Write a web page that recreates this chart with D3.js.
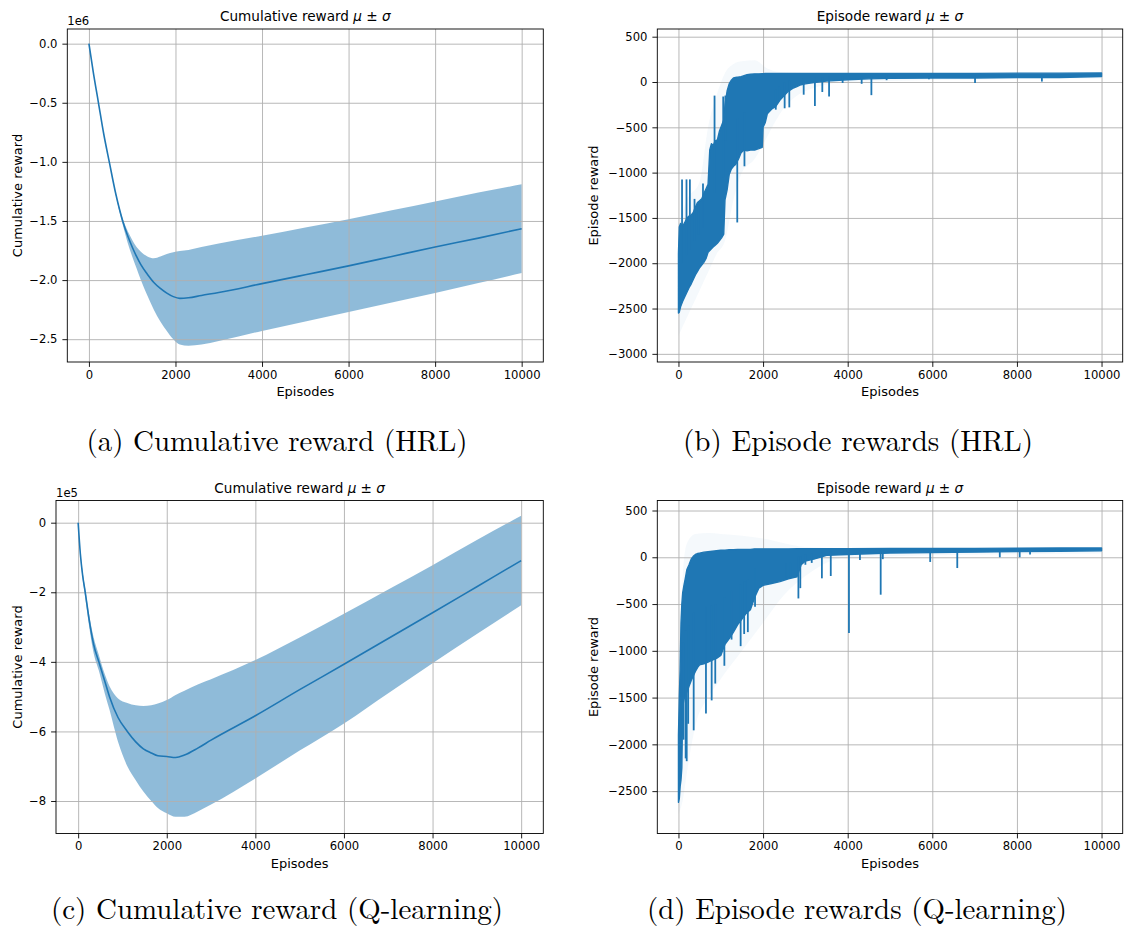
<!DOCTYPE html>
<html>
<head>
<meta charset="utf-8">
<script src="https://cdn.jsdelivr.net/npm/d3@7"></script>
<style>
  body { margin: 0; background: #fff; }
  svg { display: block; }
</style>
</head>
<body>
<svg id="fig" width="1126" height="931"></svg>
<script>
// shared x ticks (episodes)
const xTicks = [0, 2000, 4000, 6000, 8000, 10000]

// (a) HRL cumulative reward, in units of 1e6
const hrlCumEp = [0, 100, 220, 340, 470, 620, 780, 900, 1000, 1100, 1200, 1350, 1500, 1650, 1800, 1950, 2100, 2300, 2600, 3000, 4000, 5000, 6000, 7000, 8000, 9000, 10000]
const hrlCumMean = [0, -0.24, -0.5, -0.76, -1.0, -1.27, -1.5, -1.63, -1.72, -1.80, -1.87, -1.95, -2.02, -2.07, -2.11, -2.14, -2.155, -2.15, -2.13, -2.105, -2.03, -1.955, -1.88, -1.80, -1.72, -1.645, -1.565]
const hrlCumHigh = [0, -0.24, -0.5, -0.76, -1.0, -1.27, -1.48, -1.59, -1.66, -1.72, -1.76, -1.80, -1.815, -1.80, -1.78, -1.765, -1.755, -1.745, -1.72, -1.69, -1.625, -1.555, -1.485, -1.41, -1.335, -1.26, -1.19]
const hrlCumLow = [0, -0.24, -0.5, -0.76, -1.0, -1.28, -1.53, -1.69, -1.80, -1.90, -2.0, -2.13, -2.25, -2.35, -2.43, -2.50, -2.545, -2.555, -2.545, -2.515, -2.43, -2.35, -2.27, -2.19, -2.11, -2.025, -1.94]
const hrlCumTicks = [0, -0.5, -1.0, -1.5, -2.0, -2.5]

// (b) HRL episode reward: envelope of the dense line, spikes, faint sigma band
const hrlEpiEp = [0, 20, 50, 100, 150, 200, 250, 300, 350, 400,
  450, 500, 550, 600, 650, 700, 740, 780, 820, 870,
  920, 970, 1020, 1070, 1100, 1150, 1200, 1250, 1300, 1350,
  1420, 1480, 1550, 1620, 1700, 1800, 1900, 1980, 2000, 2050,
  2100, 2200, 2300, 2400, 2500, 2600, 2700, 2800, 2900, 3000,
  3200, 3500, 4000, 4500, 5000, 6000, 7000, 8000, 9000, 10000]
const hrlEpiHigh = [-1890, -1600, -1560, -1590, -1550, -1500, -1480, -1470, -1440, -1380,
  -1330, -1310, -1290, -1230, -1180, -1130, -750, -680, -700, -650,
  -640, -540, -480, -420, -250, -100, -20, 20, 45, 50,
  55, 60, 70, 80, 85, 90, 90, 92, 92, 95,
  95, 95, 95, 95, 95, 95, 95, 95, 95, 95,
  95, 95, 95, 95, 95, 95, 95, 98, 98, 100]
const hrlEpiLow = [-2550, -2540, -2480, -2420, -2370, -2320, -2270, -2230, -2180, -2130,
  -2090, -2050, -2020, -1990, -1950, -1880, -1860, -1840, -1820, -1800,
  -1780, -1750, -1720, -1680, -1300, -1190, -1020, -960, -930, -910,
  -850, -780, -750, -760, -750, -750, -735, -720, -500, -450,
  -350, -300, -270, -200, -150, -100, -70, -50, -30, -20,
  -5, 10, 25, 35, 40, 45, 45, 50, 50, 60]
const hrlSpikeEp = [85, 190, 270, 380, 470, 580, 853, 1058, 1109, 1390, 1560, 2300, 2380, 2510, 2620, 2960, 3225, 3400, 3560, 3880, 4330, 4560, 4920, 5920, 7010, 8590]
const hrlSpikeVal = [-1075, -1075, -1075, -1290, -1350, -1120, -150, -160, -150, -1550, -930, -305, -200, -290, -280, -140, -265, -110, -160, -10, -20, -145, 20, 30, -10, 5]
const hrlSigEp = [0, 200, 500, 700, 900, 1100, 1300, 1500, 1800, 2100, 2400, 3000, 4000, 10000]
const hrlSigHigh = [-1600, -1300, -1100, -500, -150, 100, 200, 230, 240, 150, 110, 100, 100, 100]
const hrlSigLow = [-2800, -2600, -2300, -2100, -1900, -1750, -1300, -1000, -850, -600, -350, -100, 0, 40]
const hrlEpiTicks = [500, 0, -500, -1000, -1500, -2000, -2500, -3000]

// (c) Q-learning cumulative reward, in units of 1e5
const qCumEp = [0, 50, 100, 160, 250, 350, 467, 600, 708, 900, 1110, 1300, 1472, 1650, 1800, 2000, 2200, 2400, 2700, 3000, 4000, 5000, 6000, 7000, 8000, 9000, 10000]
const qCumMean = [0, -0.9, -1.5, -2.0, -2.8, -3.5, -4.0, -4.55, -5.0, -5.6, -6.0, -6.3, -6.5, -6.62, -6.7, -6.72, -6.75, -6.68, -6.48, -6.25, -5.55, -4.8, -4.07, -3.33, -2.59, -1.84, -1.09]
const qCumHigh = [0, -0.85, -1.4, -1.9, -2.65, -3.3, -3.8, -4.35, -4.7, -5.05, -5.18, -5.25, -5.27, -5.25, -5.2, -5.1, -4.95, -4.83, -4.65, -4.5, -3.95, -3.3, -2.62, -1.92, -1.22, -0.5, 0.2]
const qCumLow = [0, -0.95, -1.6, -2.15, -3.0, -3.75, -4.25, -4.9, -5.38, -6.3, -7.0, -7.4, -7.73, -8.0, -8.2, -8.35, -8.45, -8.45, -8.3, -8.1, -7.35, -6.55, -5.77, -4.9, -4.04, -3.2, -2.37]
const qCumTicks = [0, -2, -4, -6, -8]

// (d) Q-learning episode reward
const qEpiEp = [0, 20, 40, 60, 80, 100, 130, 160, 200, 250,
  300, 350, 400, 450, 500, 600, 700, 800, 900, 1000,
  1100, 1200, 1300, 1400, 1500, 1600, 1700, 1800, 1900, 2000,
  2200, 2400, 2600, 2800, 2900, 3000, 3200, 3500, 4000, 5000,
  6000, 7000, 8000, 9000, 10000]
const qEpiHigh = [-1900, -1500, -1200, -700, -500, -380, -300, -230, -130, -80,
  -20, 10, 30, 40, 45, 55, 60, 65, 70, 75,
  75, 80, 80, 85, 85, 85, 85, 90, 90, 90,
  90, 90, 90, 92, 92, 92, 92, 92, 92, 95,
  95, 95, 98, 100, 100]
const qEpiLow = [-2620, -2580, -2450, -2380, -2250, -1600, -1520, -1480, -1440, -1380,
  -1320, -1270, -1220, -1180, -1150, -1140, -1120, -1100, -1080, -1050,
  -930, -870, -800, -720, -660, -600, -560, -430, -330, -300,
  -280, -260, -230, -210, -80, -40, -20, 20, 30, 45,
  50, 55, 60, 65, 70]
const qSpikeEp = [100, 120, 170, 195, 230, 360, 650, 785, 870, 1085, 1255, 1470, 1553, 1640, 1810, 2540, 2640, 2835, 2880, 3000, 3150, 3390, 3600, 4030, 4290, 4780, 4830, 5950, 6590, 7595, 8065, 8310]
const qSpikeVal = [-1750, -1950, -2150, -2180, -1780, -1850, -1670, -1530, -1350, -1160, -880, -950, -820, -800, -530, -240, -220, -440, -330, -80, -60, -225, -200, -810, -30, -400, -20, -50, -115, 0, 0, 30]
const qSigEp = [0, 100, 200, 400, 700, 1000, 1500, 2000, 2500, 3000, 4000, 10000]
const qSigHigh = [-1500, -200, 150, 250, 260, 250, 230, 200, 150, 110, 100, 100]
const qSigLow = [-2750, -2600, -2300, -1800, -1500, -1300, -1000, -700, -400, -200, 0, 40]
const qEpiTicks = [500, 0, -500, -1000, -1500, -2000, -2500]

const captions = ['(a) Cumulative reward (HRL)', '(b) Episode rewards (HRL)',
  '(c) Cumulative reward (Q-learning)', '(d) Episode rewards (Q-learning)']

const blue = '#1f77b4'
const sans = '"DejaVu Sans", sans-serif'
const svg = d3.select('#fig')

function makePanel (p) {
  const x = d3.scaleLinear().domain([-500, 10500]).range([p.left, p.right])
  const y = d3.scaleLinear().domain(p.yDomain).range([p.bottom, p.top])
  const root = svg.append('g')
  const under = root.append('g')
  const grid = root.append('g')
  const over = root.append('g')
  const axes = root.append('g')

  // grid lines (drawn above the sigma band, under the lines, like matplotlib)
  const gx = grid.append('g').attr('transform', `translate(0,${p.bottom})`)
    .call(d3.axisBottom(x).tickValues(xTicks).tickSize(p.top - p.bottom).tickFormat(''))
  const gy = grid.append('g').attr('transform', `translate(${p.left},0)`)
    .call(d3.axisLeft(y).tickValues(p.yTicks).tickSize(p.left - p.right).tickFormat(''))
  for (const g of [gx, gy]) {
    g.select('.domain').remove()
    g.selectAll('line').attr('stroke', '#b0b0b0').attr('stroke-width', 0.9)
  }

  const xa = axes.append('g').attr('transform', `translate(0,${p.bottom})`)
    .call(d3.axisBottom(x).tickValues(xTicks).tickSize(4.9).tickPadding(3.4).tickFormat(d3.format('d')))
  const ya = axes.append('g').attr('transform', `translate(${p.left},0)`)
    .call(d3.axisLeft(y).tickValues(p.yTicks).tickSize(4.9).tickPadding(4.9).tickFormat(p.yFmt))
  for (const g of [xa, ya]) {
    g.select('.domain').remove()
    g.attr('font-family', sans).attr('font-size', 11.6).attr('color', '#000')
    g.selectAll('line').attr('stroke-width', 0.9)
  }

  axes.append('rect')
    .attr('x', p.left).attr('y', p.top)
    .attr('width', p.right - p.left).attr('height', p.bottom - p.top)
    .attr('fill', 'none').attr('stroke', '#000').attr('stroke-width', 0.9)

  if (p.offset) {
    axes.append('text').attr('x', p.left).attr('y', p.offsetY)
      .attr('font-family', sans).attr('font-size', 11.6).text(p.offset)
  }

  const title = axes.append('text')
    .attr('x', (p.left + p.right) / 2).attr('y', p.top - 8)
    .attr('text-anchor', 'middle').attr('font-family', sans).attr('font-size', 13.6)
  title.append('tspan').text(p.title + ' ')
  title.append('tspan').attr('font-style', 'italic').text('μ')
  title.append('tspan').text(' ± ')
  title.append('tspan').attr('font-style', 'italic').text('σ')

  axes.append('text')
    .attr('x', (p.left + p.right) / 2).attr('y', p.bottom + 34)
    .attr('text-anchor', 'middle').attr('font-family', sans).attr('font-size', 13)
    .text('Episodes')

  axes.append('text')
    .attr('transform', `translate(${p.ylabelX},${(p.top + p.bottom) / 2}) rotate(-90)`)
    .attr('text-anchor', 'middle').attr('font-family', sans).attr('font-size', 13)
    .text(p.ylabel)

  return { x, y, under, over }
}

function drawCumulative (pn, ep, mean, low, high) {
  const idx = d3.range(ep.length)
  pn.under.append('path')
    .attr('d', d3.area().x(i => pn.x(ep[i])).y0(i => pn.y(low[i])).y1(i => pn.y(high[i])).curve(d3.curveMonotoneX)(idx))
    .attr('fill', blue).attr('fill-opacity', 0.5)
  pn.over.append('path')
    .attr('d', d3.line().x(i => pn.x(ep[i])).y(i => pn.y(mean[i])).curve(d3.curveMonotoneX)(idx))
    .attr('fill', 'none').attr('stroke', blue).attr('stroke-width', 1.6)
}

function drawEpisode (pn, ep, low, high, sEp, sLow, sHigh, spEp, spVal) {
  const sIdx = d3.range(sEp.length)
  pn.under.append('path')
    .attr('d', d3.area().x(i => pn.x(sEp[i])).y0(i => pn.y(sLow[i])).y1(i => pn.y(sHigh[i])).curve(d3.curveMonotoneX)(sIdx))
    .attr('fill', blue).attr('fill-opacity', 0.045)
  const idx = d3.range(ep.length)
  pn.over.append('path')
    .attr('d', d3.area().x(i => pn.x(ep[i])).y0(i => pn.y(low[i])).y1(i => pn.y(high[i]))(idx))
    .attr('fill', blue).attr('stroke', blue).attr('stroke-width', 1.4).attr('stroke-linejoin', 'round')
  const bis = d3.bisector(d => d).left
  pn.over.selectAll('line.spike').data(d3.range(spEp.length)).join('line')
    .attr('class', 'spike')
    .attr('x1', i => pn.x(spEp[i])).attr('x2', i => pn.x(spEp[i]))
    .attr('y1', i => pn.y(spVal[i]))
    .attr('y2', i => {
      const k = Math.min(bis(ep, spEp[i]), ep.length - 1)
      return pn.y((low[k] + high[k]) / 2)
    })
    .attr('stroke', blue).attr('stroke-width', 1.8)
}

const fmtA = v => d3.format('.1f')(v)
const fmtInt = d3.format('d')

const pa = makePanel({ left: 67.3, right: 543.3, top: 29, bottom: 362, yDomain: [-2.693, 0.124],
  yTicks: hrlCumTicks, yFmt: fmtA, title: 'Cumulative reward', ylabel: 'Cumulative reward',
  ylabelX: 22.3, offset: '1e6', offsetY: 25 })
drawCumulative(pa, hrlCumEp, hrlCumMean, hrlCumLow, hrlCumHigh)

const pb = makePanel({ left: 657.3, right: 1122.7, top: 29, bottom: 362, yDomain: [-3090, 585],
  yTicks: hrlEpiTicks, yFmt: fmtInt, title: 'Episode reward', ylabel: 'Episode reward', ylabelX: 597.8 })
drawEpisode(pb, hrlEpiEp, hrlEpiLow, hrlEpiHigh, hrlSigEp, hrlSigLow, hrlSigHigh, hrlSpikeEp, hrlSpikeVal)

const pc = makePanel({ left: 56, right: 543.3, top: 500.5, bottom: 833.5, yDomain: [-8.934, 0.638],
  yTicks: qCumTicks, yFmt: fmtInt, title: 'Cumulative reward', ylabel: 'Cumulative reward',
  ylabelX: 22.2, offset: '1e5', offsetY: 497 })
drawCumulative(pc, qCumEp, qCumMean, qCumLow, qCumHigh)

const pd = makePanel({ left: 657.3, right: 1122.7, top: 500.5, bottom: 833.5, yDomain: [-2953, 607],
  yTicks: qEpiTicks, yFmt: fmtInt, title: 'Episode reward', ylabel: 'Episode reward', ylabelX: 597.8 })
drawEpisode(pd, qEpiEp, qEpiLow, qEpiHigh, qSigEp, qSigLow, qSigHigh, qSpikeEp, qSpikeVal)

// sub-figure captions
const capPos = [[277, 451, 381], [858, 451, 350], [277, 919, 452], [857, 919, 420]]
svg.selectAll('text.cap').data(captions).join('text')
  .attr('class', 'cap')
  .attr('x', (d, i) => capPos[i][0]).attr('y', (d, i) => capPos[i][1])
  .attr('text-anchor', 'middle')
  .attr('textLength', (d, i) => capPos[i][2]).attr('lengthAdjust', 'spacingAndGlyphs')
  .attr('font-family', '"Latin Modern Roman", "CMU Serif", "Liberation Serif", serif')
  .attr('font-size', 29).attr('fill', '#000')
  .text(d => d)
</script>
</body>
</html>
